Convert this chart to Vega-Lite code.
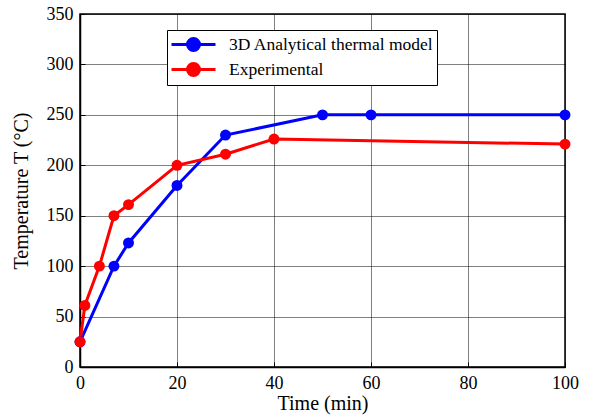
{
  "$schema": "https://vega.github.io/schema/vega-lite/v6.json",
  "autosize": {"type": "none"},
  "padding": {"left": 80, "top": 14, "right": 25, "bottom": 52},
  "width": 485,
  "height": 353,
  "background": "white",
  "config": {
    "font": "Liberation Serif",
    "view": {"stroke": "black", "strokeWidth": 1.5},
    "axis": {
      "labelFont": "Times New Roman",
      "titleFont": "Liberation Serif",
      "labelFontSize": 18,
      "titleFontSize": 20,
      "labelColor": "black",
      "titleColor": "black",
      "titleFontWeight": "normal",
      "domainColor": "black",
      "domainWidth": 1.5,
      "tickColor": "black",
      "tickSize": -5,
      "gridColor": "black",
      "gridDash": [1, 1],
      "gridOpacity": 1,
      "gridWidth": 1
    }
  },
  "data": {
    "values": [
      {"series": "3D Analytical thermal model", "time": 0, "temp": 25},
      {"series": "3D Analytical thermal model", "time": 7, "temp": 100},
      {"series": "3D Analytical thermal model", "time": 10, "temp": 123},
      {"series": "3D Analytical thermal model", "time": 20, "temp": 180},
      {"series": "3D Analytical thermal model", "time": 30, "temp": 230},
      {"series": "3D Analytical thermal model", "time": 50, "temp": 250},
      {"series": "3D Analytical thermal model", "time": 60, "temp": 250},
      {"series": "3D Analytical thermal model", "time": 100, "temp": 250},
      {"series": "Experimental", "time": 0, "temp": 25},
      {"series": "Experimental", "time": 1, "temp": 61},
      {"series": "Experimental", "time": 4, "temp": 100},
      {"series": "Experimental", "time": 7, "temp": 150},
      {"series": "Experimental", "time": 10, "temp": 161},
      {"series": "Experimental", "time": 20, "temp": 200},
      {"series": "Experimental", "time": 30, "temp": 211},
      {"series": "Experimental", "time": 40, "temp": 226},
      {"series": "Experimental", "time": 100, "temp": 221}
    ]
  },
  "mark": {"type": "line", "strokeWidth": 3, "point": {"filled": true, "size": 120, "opacity": 1}},
  "encoding": {
    "x": {
      "field": "time", "type": "quantitative", "title": "Time (min)",
      "scale": {"domain": [0, 100], "nice": false},
      "axis": {"values": [0, 20, 40, 60, 80, 100], "labelFont": "Times New Roman", "labelPadding": 12, "titlePadding": 1, "labelFlush": false}
    },
    "y": {
      "field": "temp", "type": "quantitative", "title": "Temperature T (°C)",
      "scale": {"domain": [0, 350], "nice": false},
      "axis": {"values": [0, 50, 100, 150, 200, 250, 300, 350], "labelFont": "Times New Roman", "labelPadding": 12, "titlePadding": 15, "labelFlush": false}
    },
    "color": {
      "field": "series", "type": "nominal",
      "scale": {"domain": ["3D Analytical thermal model", "Experimental"], "range": ["#0000ff", "#ff0000"]},
      "legend": {
        "title": null,
        "orient": "none",
        "legendX": 87,
        "legendY": 16,
        "fillColor": "white",
        "strokeColor": "black",
        "padding": 3,
        "rowPadding": 0,
        "labelFont": "Liberation Serif",
        "labelFontSize": 17.5,
        "labelLimit": 500,
        "labelColor": "black",
        "labelOffset": 36,
        "symbolType": "M-1,0H3.4M1.8,0A0.6,0.6 0 1,1 0.6,0A0.6,0.6 0 1,1 1.8,0Z",
        "symbolSize": 400,
        "symbolStrokeWidth": 3,
        "symbolOpacity": 1,
        "encode": {
          "symbols": {
            "update": {
              "fill": {"scale": "color", "field": "value"},
              "stroke": {"scale": "color", "field": "value"}
            }
          }
        }
      }
    }
  }
}
